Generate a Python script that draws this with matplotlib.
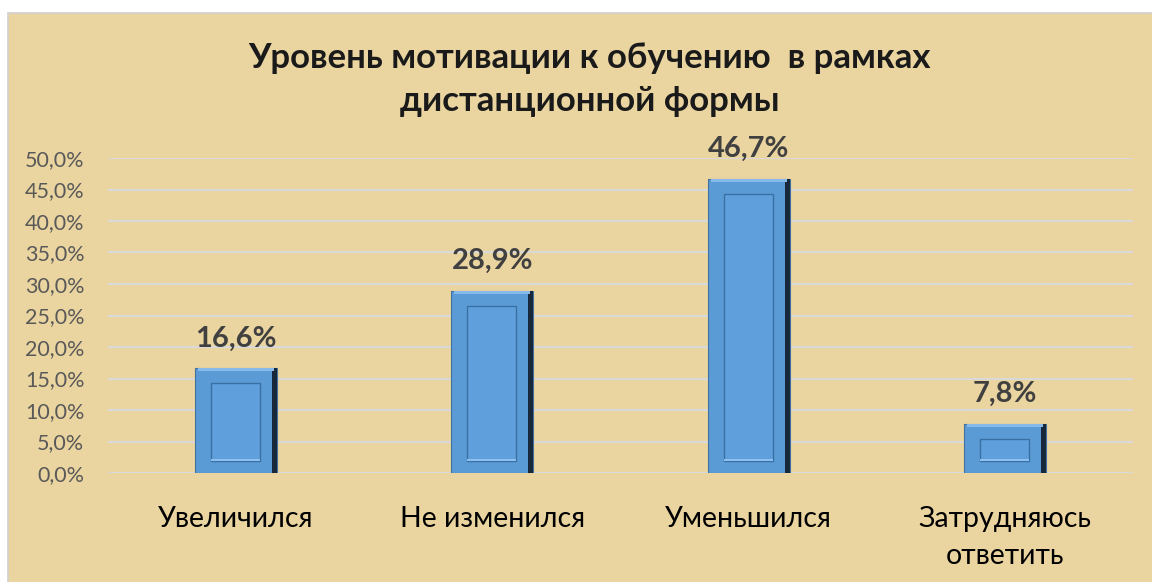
import matplotlib
matplotlib.use("Agg")
import matplotlib.pyplot as plt
from matplotlib.patches import Rectangle
from matplotlib.ticker import FuncFormatter, MultipleLocator

categories = ["Увеличился", "Не изменился", "Уменьшился", "Затрудняюсь\nответить"]
values = [0.166, 0.289, 0.467, 0.078]
title = "Уровень мотивации к обучению  в рамках\nдистанционной формы"

plt.rcParams["font.family"] = ["Lato", "DejaVu Sans"]

fig = plt.figure(figsize=(11.52, 5.82), dpi=100)
fig.patch.set_facecolor("white")

# chart area background (papyrus-like tan)
fig.patches.append(Rectangle((8 / 1152, -0.01), 1.0, 1 - 13 / 582 + 0.01,
                             transform=fig.transFigure, facecolor="#EAD5A0",
                             edgecolor="#D0D0D0", linewidth=1.2, zorder=-1))

ax = fig.add_axes([108 / 1152, 1 - 473 / 582, 1025 / 1152, 315 / 582])
ax.set_facecolor("none")

x = list(range(len(categories)))
width = 0.32
# pixel -> data helpers
px_x = 1 / 256.25
px_y = 0.5 / 315

# outer bevel frame
ax.bar(x, values, width=width, color="#5B9BD5", edgecolor="#41719C",
       linewidth=0.8, zorder=3)
# dark right side
ax.bar([i + width / 2 - 2.5 * px_x for i in x], values, width=5 * px_x,
       color="#17283A", linewidth=0, zorder=4)
# light top edge
ax.bar(x, [3 * px_y] * len(x), bottom=[v - 3 * px_y for v in values],
       width=width - 6 * px_x, color="#86BAEA", linewidth=0, zorder=4)
# inner panel
inner_w = width - 33 * px_x
ax.bar([i - 0.5 * px_x for i in x], [v - 27 * px_y for v in values],
       bottom=12 * px_y, width=inner_w, color="#5FA0DC",
       edgecolor="#3A6FA3", linewidth=1.0, zorder=5)
ax.bar([i - 0.5 * px_x for i in x], [2 * px_y] * len(x),
       bottom=12 * px_y, width=inner_w, color="#8CC0EE", linewidth=0, zorder=6)

for i, v in enumerate(values):
    ax.annotate(f"{v * 100:.1f}%".replace(".", ","), (i, v),
                xytext=(0, 12), textcoords="offset points",
                ha="center", va="bottom", fontsize=21, fontweight="bold",
                color="#404040", zorder=7)

ax.set_xlim(-0.5, len(categories) - 0.5)
ax.set_ylim(0, 0.5)
ax.yaxis.set_major_locator(MultipleLocator(0.05))
ax.yaxis.set_major_formatter(FuncFormatter(lambda v, p: f"{v * 100:.1f}%".replace(".", ",")))
ax.grid(axis="y", color="#D9D9D9", linewidth=1.5, zorder=1)
ax.set_axisbelow(True)
for s in ax.spines.values():
    s.set_visible(False)
ax.tick_params(axis="y", length=0, pad=17, labelsize=15.5, labelcolor="#595959")
ax.set_xticks(x)
ax.set_xticklabels(categories, fontsize=20.5, color="black", linespacing=1.5)
ax.tick_params(axis="x", length=0, pad=24)

fig.text(0.512, 0.927, title, ha="center", va="top", fontsize=25,
         fontweight="bold", color="#1A1A1A", linespacing=1.4)

fig.savefig("out.png", dpi=100)
